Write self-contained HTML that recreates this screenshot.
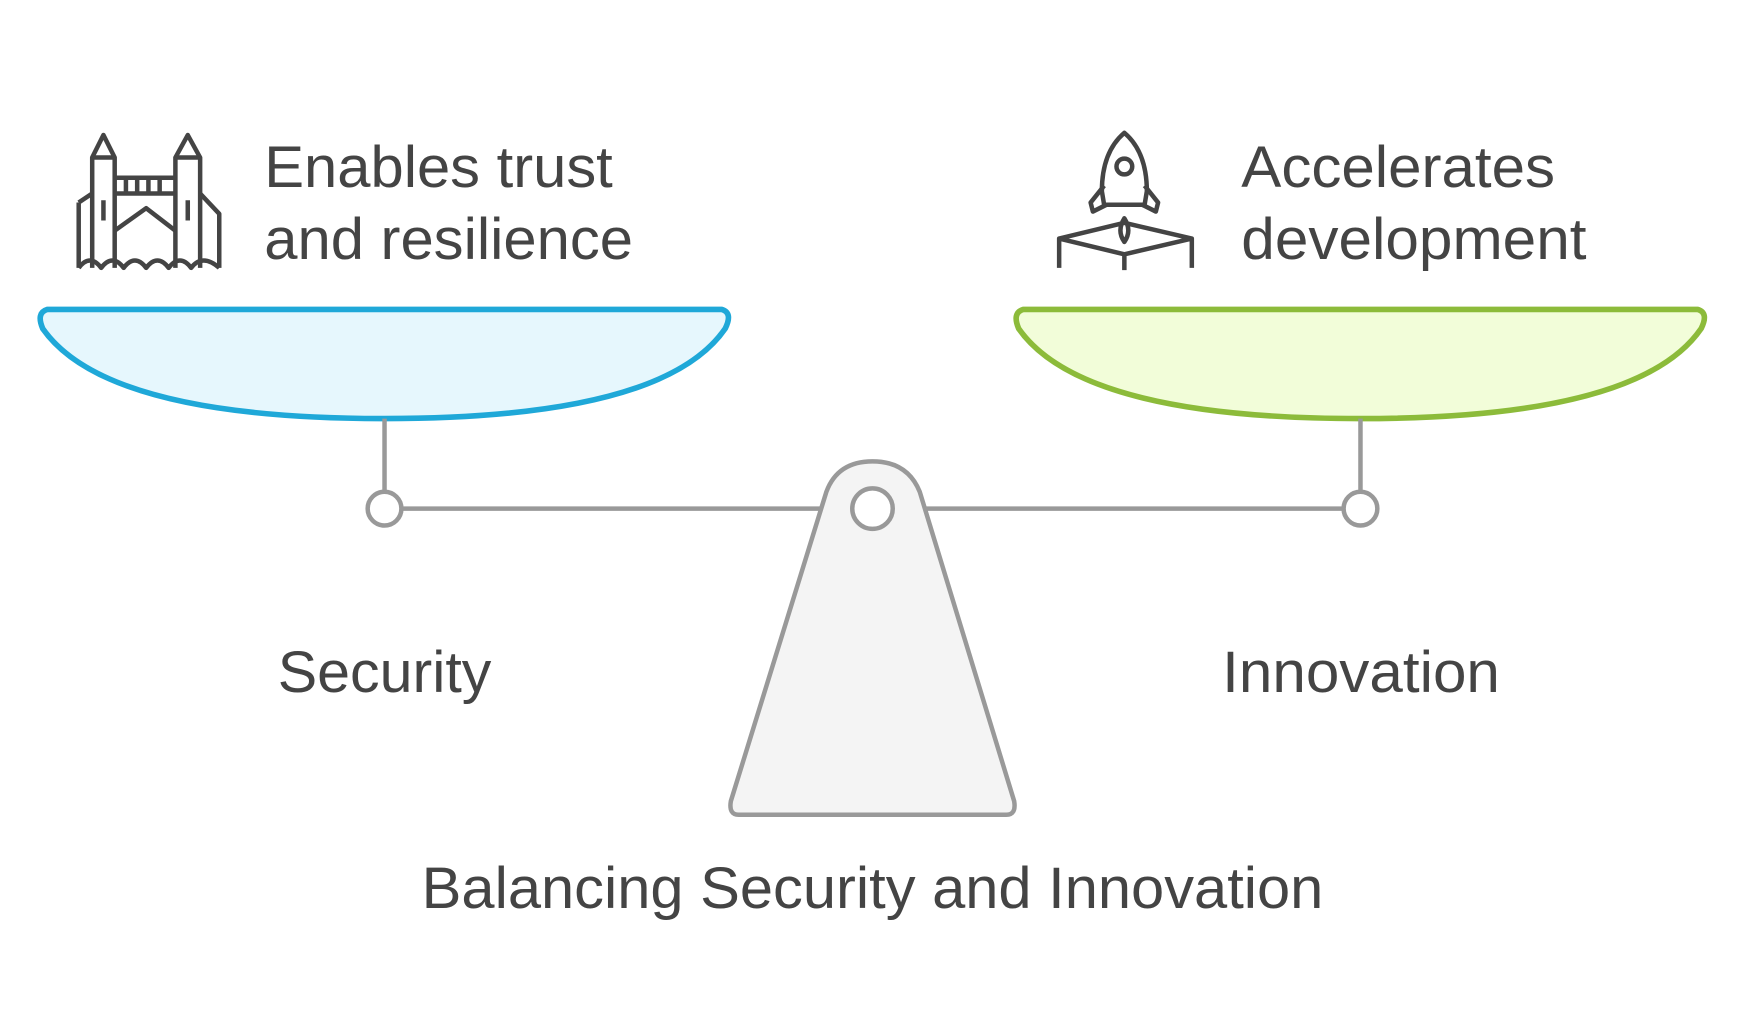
<!DOCTYPE html>
<html><head><meta charset="utf-8"><style>
html,body{margin:0;padding:0;background:#fff;}
svg{display:block}
text{font-family:"Liberation Sans",sans-serif;fill:#444;}
</style></head><body>
<svg width="1754" height="1024" viewBox="0 0 1560 910" preserveAspectRatio="none" xmlns="http://www.w3.org/2000/svg">
<path d="M42 275 L642 275 Q652 278 645 292 Q590 372 342 372 Q94 372 38 292 Q32 278 42 275 Z" fill="#e6f7fd" stroke="#1fa8d8" stroke-width="5" stroke-linejoin="round"/>
<path d="M910 275 L1510 275 Q1520 278 1513 292 Q1458 372 1210 372 Q962 372 906 292 Q900 278 910 275 Z" fill="#f2fdd9" stroke="#8cbb3a" stroke-width="5" stroke-linejoin="round"/>
<g stroke="#999" stroke-width="4" fill="#fff">
<line x1="342" y1="372" x2="342" y2="437"/>
<line x1="1210" y1="372" x2="1210" y2="437"/>
<line x1="357" y1="452" x2="735" y2="452"/>
<line x1="818" y1="452" x2="1195" y2="452"/>
<circle cx="342" cy="452" r="15"/>
<circle cx="1210" cy="452" r="15"/>
<path d="M735 437 Q745 410 776 410 Q807 410 818 437 L902 712 Q904 724 895 724 L657 724 Q648 724 650 712 Z" fill="#f4f4f4"/>
<circle cx="776" cy="452" r="18"/>
</g>
<g stroke="#444" stroke-width="4" fill="none" stroke-linejoin="round">
<path d="M82 238 V140 L92 120 L102 140 V238"/>
<path d="M156 238 V140 L167 120 L178 140 V238"/>
<path d="M82 140 H102 M156 140 H178 M102 158 H156 M102 172 H156"/>
<path d="M112 158 V172 M122 158 V172 M132 158 V172 M142 158 V172"/>
<path d="M82 172 L70 180 M178 172 L195 190 V238 M70 180 V238"/>
<path d="M92 178 V196 M167 178 V196"/>
<path d="M70 238 Q80 225 90 238 Q100 225 110 238 Q120 225 130 238 Q140 225 150 238 Q160 225 170 238 Q180 225 195 238"/>
<path d="M102 205 L130 185 L156 205"/>
</g>
<g stroke="#444" stroke-width="4" fill="none" stroke-linejoin="round">
<path d="M1000 118 Q1020 135 1020 170 L1018 182 H982 L980 170 Q980 135 1000 118 Z"/>
<circle cx="1000" cy="148" r="7"/>
<path d="M982 165 L970 180 L972 188 L984 182 M1018 165 L1030 180 L1028 188 L1016 182"/>
<path d="M1000 194 Q993 205 1000 215 Q1007 205 1000 194 Z"/>
<path d="M942 238 V212 L1000 198 L1060 212 V238 M942 212 L1000 226 L1060 212 M1000 226 V240"/>
</g>
<text x="235" y="166" font-size="52" textLength="310" lengthAdjust="spacingAndGlyphs">Enables trust</text>
<text x="235" y="230" font-size="52" textLength="328" lengthAdjust="spacingAndGlyphs">and resilience</text>
<text x="1104" y="166" font-size="52" textLength="279" lengthAdjust="spacingAndGlyphs">Accelerates</text>
<text x="1104" y="230" font-size="52" textLength="307" lengthAdjust="spacingAndGlyphs">development</text>
<text x="247" y="615" font-size="52" textLength="190" lengthAdjust="spacingAndGlyphs">Security</text>
<text x="1087" y="615" font-size="52" textLength="247" lengthAdjust="spacingAndGlyphs">Innovation</text>
<text x="375" y="807" font-size="52" textLength="802" lengthAdjust="spacingAndGlyphs">Balancing Security and Innovation</text>
</svg>
</body></html>
